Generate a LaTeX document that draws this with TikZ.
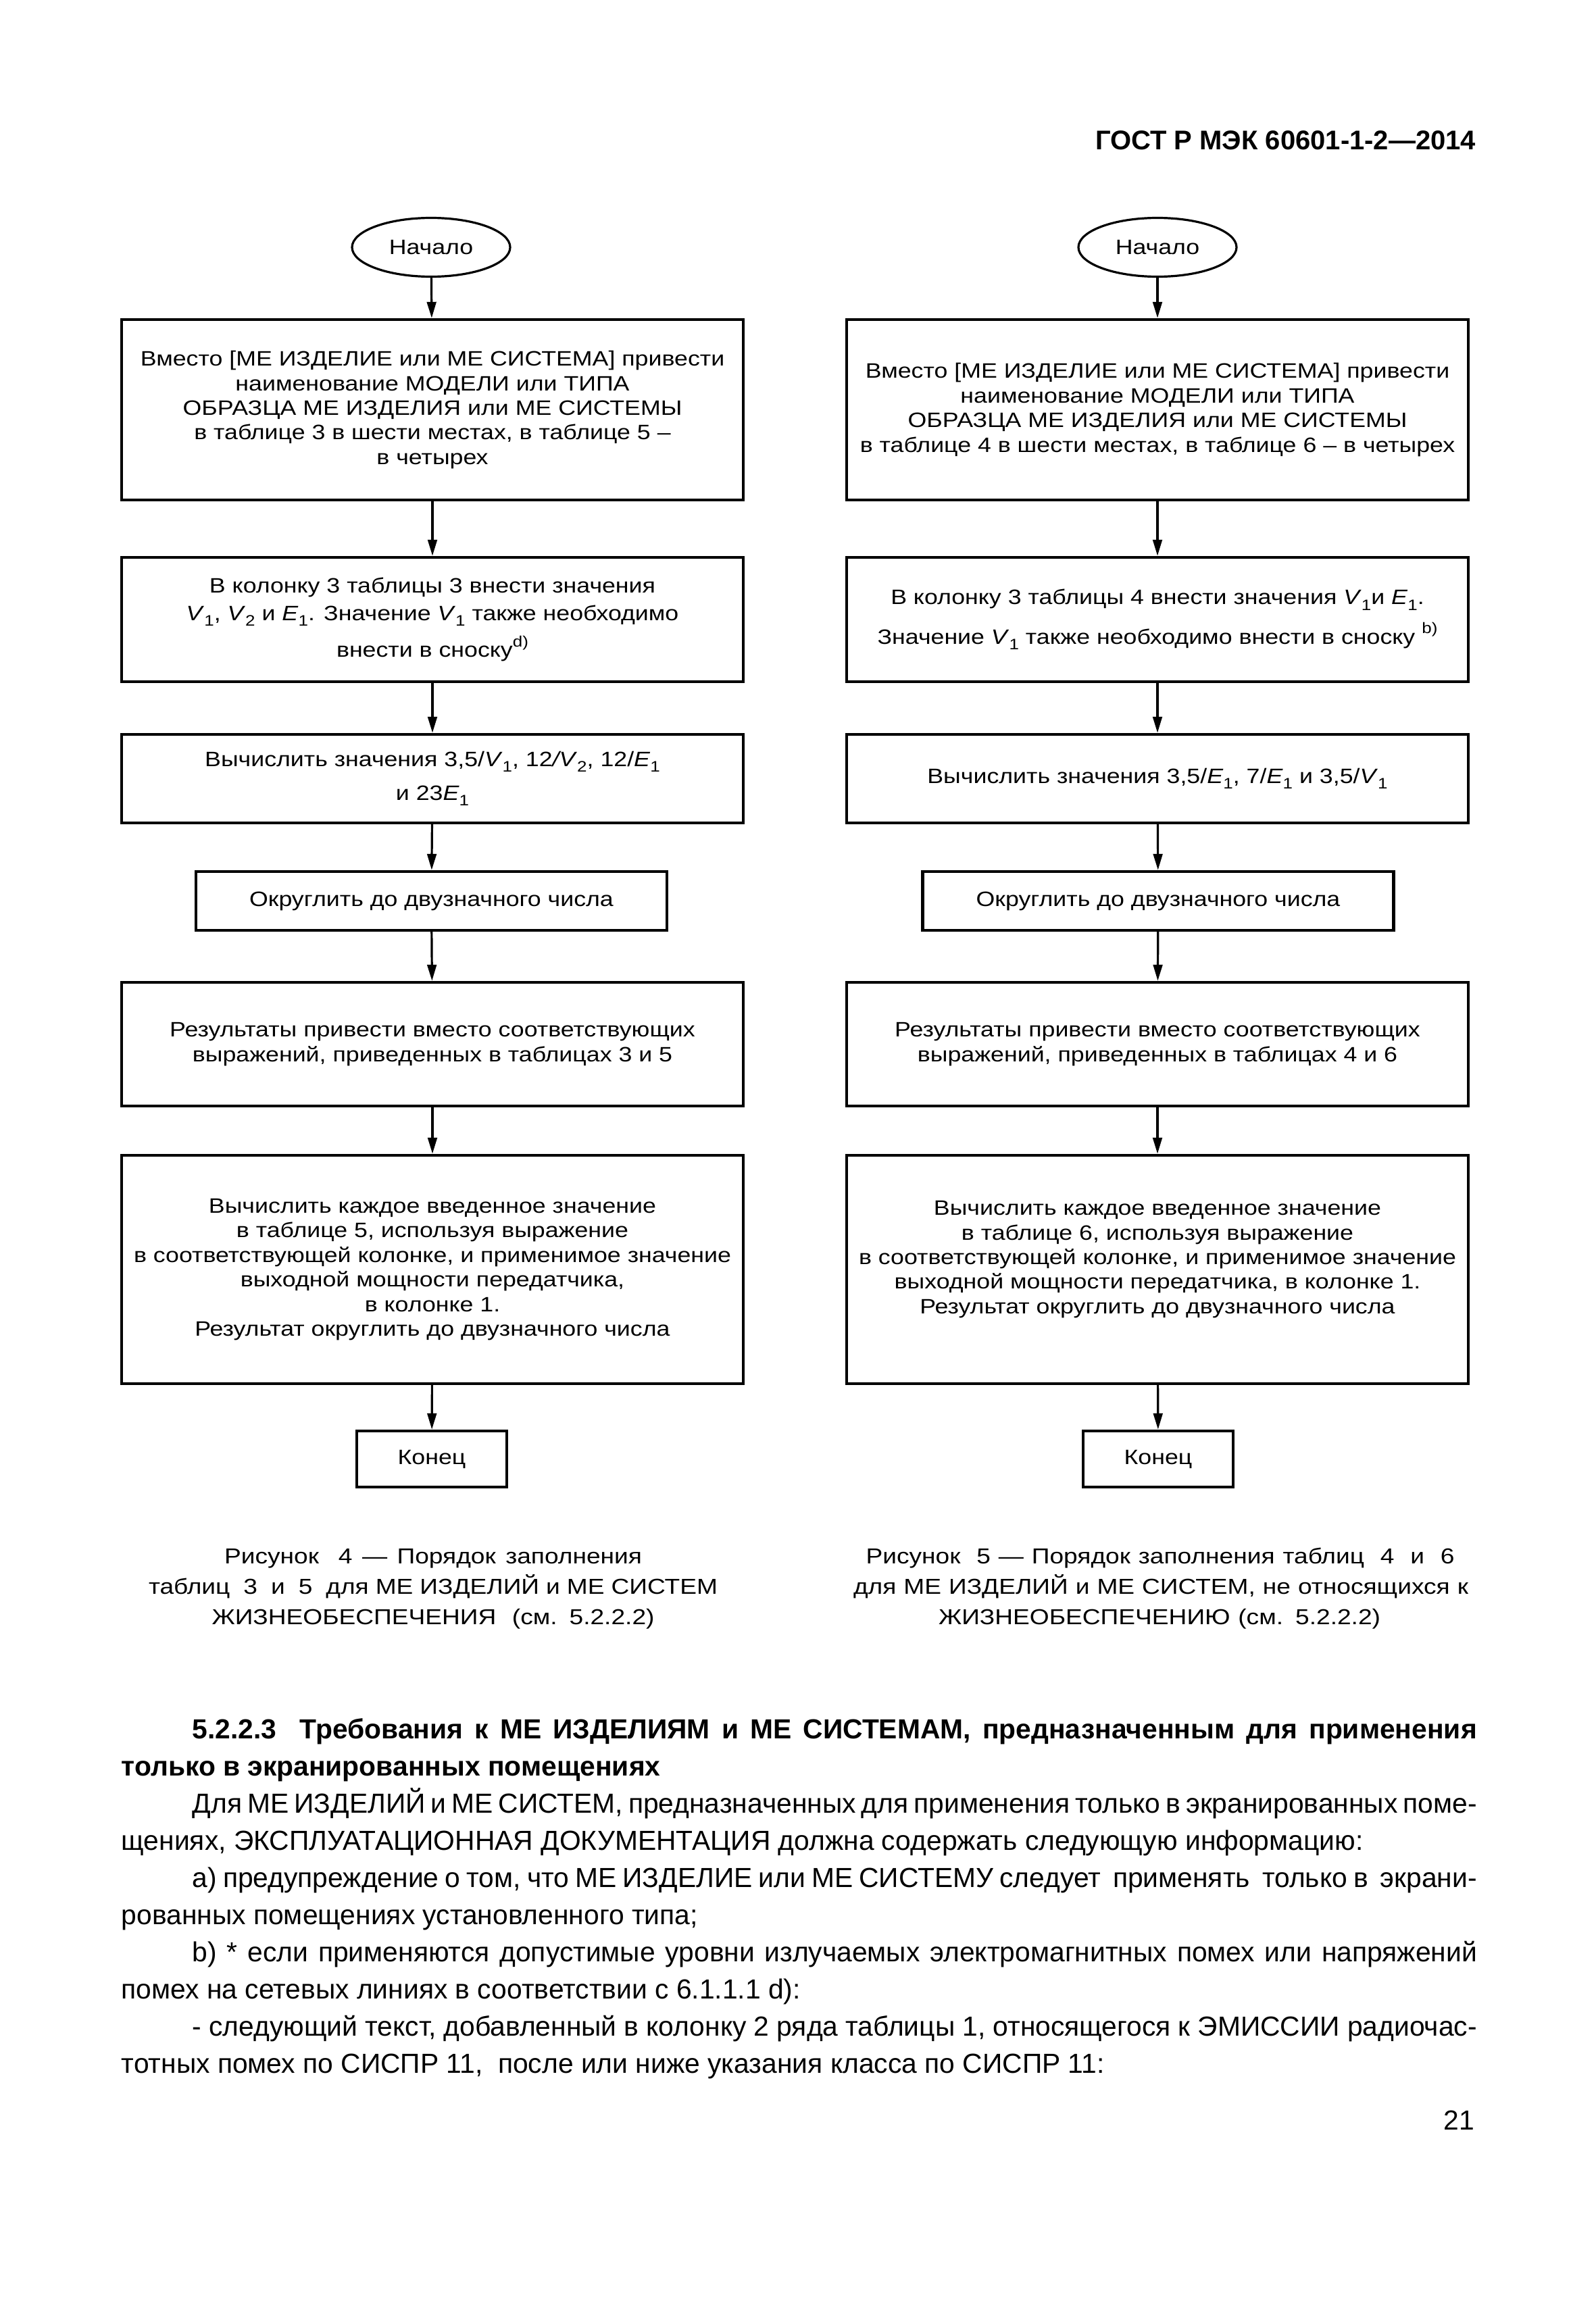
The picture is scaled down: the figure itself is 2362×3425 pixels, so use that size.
\documentclass[tikz,border=0pt]{standalone}
\usepackage{fontspec}
\setmainfont{Liberation Sans}
\newfontfamily\figfont{Liberation Sans}[FakeStretch=1.16]
\usetikzlibrary{arrows.meta,shapes.geometric}
\newcommand\figtxt{\figfont\fontsize{7.7}{9.1}\selectfont}
\newcommand\captxtfont{\figfont\fontsize{8.0}{9.5}\selectfont}
\newcommand\sbs[1]{\raisebox{-0.28em}{\fontsize{5.6}{6}\selectfont #1}}
\newcommand\sps[1]{\raisebox{0.5em}{\fontsize{5.6}{6}\selectfont #1}}
\newcommand\vi[1]{\textit{V}\sbs{#1}}
\newcommand\ei[1]{\textit{E}\sbs{#1}}
\begin{document}
\begin{tikzpicture}[x=0.25pt,y=-0.25pt,
  box/.style={draw,line width=1.1pt,rectangle,align=center,inner sep=0pt,font=\figtxt,minimum width=230pt},
  oval/.style={draw,line width=0.8pt,ellipse,inner sep=0pt,font=\figtxt,minimum width=58.5pt,minimum height=21.75pt},
  arr/.style={line width=0.8pt,-{Triangle[length=6pt,width=3.4pt]}},
  captxt/.style={font=\captxtfont,inner sep=0pt,anchor=base},
  bodyl/.style={font=\fontsize{10.2}{13.75}\selectfont,inner sep=0pt,anchor=base west},
]
\fill[white] (0,0) rectangle (2362,3425);
\useasboundingbox (0,0) rectangle (2362,3425);

\node[anchor=base east,inner sep=0pt,font=\bfseries\fontsize{10}{12}\selectfont] (hdr) at (2185,222) {ГОСТ Р МЭК 60601-1-2—2014};

% ---------- left flowchart ----------
\node[oval] (sL) at (638,366) {Начало};
\node[box,minimum height=66.75pt] (b1L) at (640,606.5) {Вместо [МЕ ИЗДЕЛИЕ или МЕ СИСТЕМА] привести\\наименование МОДЕЛИ или ТИПА\\ОБРАЗЦА МЕ ИЗДЕЛИЯ или МЕ СИСТЕМЫ\\в таблице 3 в шести местах, в таблице 5 –\\в четырех};
\node[box,minimum height=46pt] (b2L) at (640,917) {В колонку 3 таблицы 3 внести значения\\[1pt]\vi{1}, \vi{2} и \ei{1}. Значение \vi{1} также необходимо\\[2.5pt]внести в сноску\sps{d)}};
\node[box,minimum height=32.75pt] (b3L) at (640,1152.5) {Вычислить значения 3,5/\vi{1}, 12\textit{/V}\sbs{2}, 12/\ei{1}\\[3.4pt]и 23\ei{1}};
\node[box,minimum height=21.75pt,minimum width=174.25pt] (b4L) at (638.5,1333.5) {Округлить до двузначного числа};
\node[box,minimum height=45.75pt] (b5L) at (640,1545.5) {Результаты привести вместо соответствующих\\выражений, приведенных в таблицах 3 и 5};
\node[box,minimum height=84.5pt] (b6L) at (640,1879) {Вычислить каждое введенное значение\\в таблице 5, используя выражение\\в соответствующей колонке, и применимое значение\\выходной мощности передатчика,\\в колонке 1.\\Результат округлить до двузначного числа};
\node[box,minimum height=20.75pt,minimum width=55.5pt] (eL) at (639,2159.5) {Конец};

\draw[arr] (sL) -- (b1L);
\draw[arr] (b1L) -- (b2L);
\draw[arr] (b2L) -- (b3L);
\draw[arr] (b3L) -- (b4L);
\draw[arr] (b4L) -- (b5L);
\draw[arr] (b5L) -- (b6L);
\draw[arr] (b6L) -- (eL);

% ---------- right flowchart ----------
\node[oval] (sR) at (1713,366) {Начало};
\node[box,minimum height=66.75pt] (b1R) at (1713,606.5) {Вместо [МЕ ИЗДЕЛИЕ или МЕ СИСТЕМА] привести\\наименование МОДЕЛИ или ТИПА\\ОБРАЗЦА МЕ ИЗДЕЛИЯ или МЕ СИСТЕМЫ\\в таблице 4 в шести местах, в таблице 6 – в четырех};
\node[box,minimum height=46pt] (b2R) at (1713,917) {В колонку 3 таблицы 4 внести значения \vi{1}и \ei{1}.\\[3.5pt]Значение \vi{1} также необходимо внести в сноску \sps{b)}};
\node[box,minimum height=32.75pt] (b3R) at (1713,1152.5) {Вычислить значения 3,5/\ei{1}, 7/\ei{1} и 3,5/\vi{1}};
\node[box,minimum height=21.75pt,minimum width=174.25pt] (b4R) at (1714,1333.5) {Округлить до двузначного числа};
\node[box,minimum height=45.75pt] (b5R) at (1713,1545.5) {Результаты привести вместо соответствующих\\выражений, приведенных в таблицах 4 и 6};
\node[box,minimum height=84.5pt] (b6R) at (1713,1879) {Вычислить каждое введенное значение\\в таблице 6, используя выражение\\в соответствующей колонке, и применимое значение\\выходной мощности передатчика, в колонке 1.\\Результат округлить до двузначного числа\\\mbox{}};
\node[box,minimum height=20.75pt,minimum width=55.5pt] (eR) at (1714,2159.5) {Конец};

\draw[arr] (sR) -- (b1R);
\draw[arr] (b1R) -- (b2R);
\draw[arr] (b2R) -- (b3R);
\draw[arr] (b3R) -- (b4R);
\draw[arr] (b4R) -- (b5R);
\draw[arr] (b5R) -- (b6R);
\draw[arr] (b6R) -- (eR);

% ---------- captions ----------
\node[captxt] (c1L) at (641,2314) {\hbox to 154.5pt{Рисунок\ \ 4 — Порядок заполнения}};
\node[captxt] (c2L) at (641,2359) {\hbox to 210.5pt{таблиц\ \ 3\ \ и\ \ 5\ \ для МЕ ИЗДЕЛИЙ и МЕ СИСТЕМ}};
\node[captxt] (c3L) at (641,2404) {\hbox to 163.75pt{ЖИЗНЕОБЕСПЕЧЕНИЯ\ \ (см. 5.2.2.2)}};
\node[captxt] (c1R) at (1717,2314) {\hbox to 217.75pt{Рисунок\ \ 5 — Порядок заполнения таблиц\ \ 4\ \ и\ \ 6}};
\node[captxt] (c2R) at (1718,2359) {\hbox to 227.5pt{для МЕ ИЗДЕЛИЙ и МЕ СИСТЕМ, не относящихся к}};
\node[captxt] (c3R) at (1716,2404) {\hbox to 163.5pt{ЖИЗНЕОБЕСПЕЧЕНИЮ (см. 5.2.2.2)}};

% ---------- body text ----------
\node[bodyl] (t1) at (179,2573) {\bfseries\hbox to 501.5pt{\hskip 26.25pt 5.2.2.3\ \ Требования к МЕ ИЗДЕЛИЯМ и МЕ СИСТЕМАМ, предназначенным для применения}};
\node[bodyl] (t2) at (179,2628) {\bfseries только в экранированных помещениях};
\node[bodyl] (t3) at (179,2683) {\hbox to 501.5pt{\hskip 26.25pt Для МЕ ИЗДЕЛИЙ и МЕ СИСТЕМ, предназначенных для применения только в экранированных поме-}};
\node[bodyl] (t4) at (179,2738) {щениях, ЭКСПЛУАТАЦИОННАЯ ДОКУМЕНТАЦИЯ должна содержать следующую информацию:};
\node[bodyl] (t5) at (179,2793) {\hbox to 501.5pt{\hskip 26.25pt а) предупреждение о том, что МЕ ИЗДЕЛИЕ или МЕ СИСТЕМУ следует\ \ применять\ \ только в\ \ экрани-}};
\node[bodyl] (t6) at (179,2848) {рованных помещениях установленного типа;};
\node[bodyl] (t7) at (179,2903) {\hbox to 501.5pt{\hskip 26.25pt b) * если применяются допустимые уровни излучаемых электромагнитных помех или напряжений}};
\node[bodyl] (t8) at (179,2958) {помех на сетевых линиях в соответствии с 6.1.1.1 d):};
\node[bodyl] (t9) at (179,3013) {\hbox to 501.5pt{\hskip 26.25pt - следующий текст, добавленный в колонку 2 ряда таблицы 1, относящегося к ЭМИССИИ радиочас-}};
\node[bodyl] (t10) at (179,3068) {тотных помех по СИСПР 11,\ \ после или ниже указания класса по СИСПР 11:};

\node[anchor=base east,inner sep=0pt,font=\fontsize{10.2}{12}\selectfont] (pg) at (2183,3152) {21};
\end{tikzpicture}
\end{document}
